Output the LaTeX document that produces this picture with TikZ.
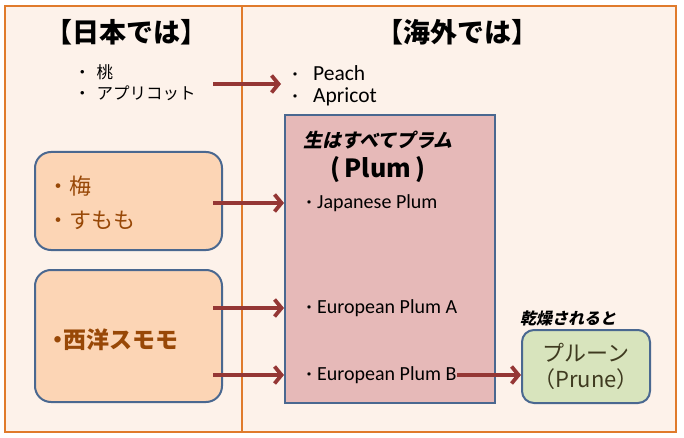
\documentclass[tikz,border=0pt]{standalone}
\usepackage{fontspec}
\setmainfont{Carlito}
\newfontfamily\jp{Noto Sans CJK JP}
\newfontfamily\jpsl[FakeSlant=0.22]{Noto Sans CJK JP}
\usetikzlibrary{positioning,arrows.meta}
\definecolor{framec}{HTML}{E07B2C}
\definecolor{bgc}{HTML}{FDF2EA}
\definecolor{linec}{HTML}{4A6890}
\definecolor{plumc}{HTML}{E6B9B8}
\definecolor{umec}{HTML}{FCD5B5}
\definecolor{prunec}{HTML}{D8E4BD}
\definecolor{arrc}{HTML}{953735}
\definecolor{brownc}{HTML}{984807}
\definecolor{prunet}{HTML}{3F3A20}
\tikzset{
  panel/.style ={draw=framec, line width=2.5pt, fill=bgc},
  sepline/.style={draw=framec, line width=2pt},
  plumbox/.style={rectangle, draw=linec, line width=2pt, fill=plumc, minimum width=210pt, minimum height=288pt},
  jbox/.style ={rectangle, rounded corners=16pt, draw=linec, line width=2pt, fill=umec, minimum width=187pt},
  prunebox/.style={rectangle, rounded corners=12pt, draw=linec, line width=2pt, fill=prunec, minimum width=128pt, minimum height=73pt},
  title/.style ={font=\jp\bfseries\fontsize{27}{32}\selectfont},
  jlist/.style ={anchor=west, align=left, inner sep=0pt, font=\jp\fontsize{16.5}{21}\selectfont},
  elist/.style ={anchor=west, align=left, inner sep=0pt, font=\fontsize{20}{24}\selectfont},
  btext/.style ={anchor=west, align=left, inner sep=0pt, text=brownc},
  arr/.style ={-{Straight Barb[length=7pt,width=17pt]}, draw=arrc, line width=3.8pt},
}
\begin{document}
\begin{tikzpicture}[x=1pt,y=-1pt]
\useasboundingbox (0,0) rectangle (684,438);
% panels
\draw[panel] (5,6) rectangle (676,432);
\draw[sepline] (242,6) -- (242,432);
\node[title] (jtitle) at (126,32) {【日本では】};
\node[title] (ftitle) at (457,32) {【海外では】};
% fruit lists at the top
\node[jlist] (peachja) at (74,72) {・\hspace{6pt}桃};
\node[jlist] (apricotja) at (74,93) {・\hspace{6pt}アプリコット};
\node[elist, font=\fontsize{21.5}{24}\selectfont] (peach) at (287,73) {{\jp\fontsize{16}{21}\selectfont ・}\hspace{10pt}Peach};
\node[elist, font=\fontsize{21.5}{24}\selectfont] (apricot) at (287,97) {{\jp\fontsize{16}{21}\selectfont ・}\hspace{10pt}Apricot};
% boxes
\node[plumbox] (plum) at (390,259) {};
\node[jbox, minimum height=98pt] (ume) at (128.5,201) {};
\node[jbox, minimum height=132pt] (seiyo) at (128.5,336) {};
\node[prunebox] (prune) at (586,366.5) {};
% box texts
\node[font=\jpsl\bfseries\fontsize{19}{22}\selectfont] (namae) at (378,140) {生はすべてプラム};
\node[font=\jp\bfseries\fontsize{25}{28}\selectfont] (plumen) at (378,170) {(\,Plum\,)};
\node[elist] (jap) at (301,203) {{\jp\fontsize{16}{21}\selectfont ・}Japanese Plum};
\node[elist] (eua) at (301,308) {{\jp\fontsize{16}{21}\selectfont ・}European Plum A};
\node[elist] (eub) at (301,375) {{\jp\fontsize{16}{21}\selectfont ・}European Plum B};
\node[btext, font=\jp\fontsize{22}{34}\selectfont] (umetext) at (47,203) {・梅\\・すもも};
\node[btext, font=\jp\bfseries\fontsize{23}{26}\selectfont] (seiyotext) at (46,340) {・\hspace{-6pt}西洋スモモ};
\node[font=\jpsl\bfseries\fontsize{16}{20}\selectfont] (dry) at (568,318) {乾燥されると};
\node[align=center, text=prunet, font=\jp\fontsize{22}{26}\selectfont] (prunetext) at (prune) {プルーン\\（Prune）};
% arrows
\coordinate (s0) at (213,84);
\coordinate (t0) at (281,84);
\coordinate (s1) at (213,203);
\coordinate (s2) at (213,308);
\coordinate (s3) at (213,375);
\coordinate (s4) at (457,375);
\draw[arr] (s0) -- (t0);
\draw[arr] (s1) -- (s1 -| plum.west);
\draw[arr] (s2) -- (s2 -| plum.west);
\draw[arr] (s3) -- (s3 -| plum.west);
\draw[arr] (s4) -- (s4 -| prune.west);
\end{tikzpicture}
\end{document}
